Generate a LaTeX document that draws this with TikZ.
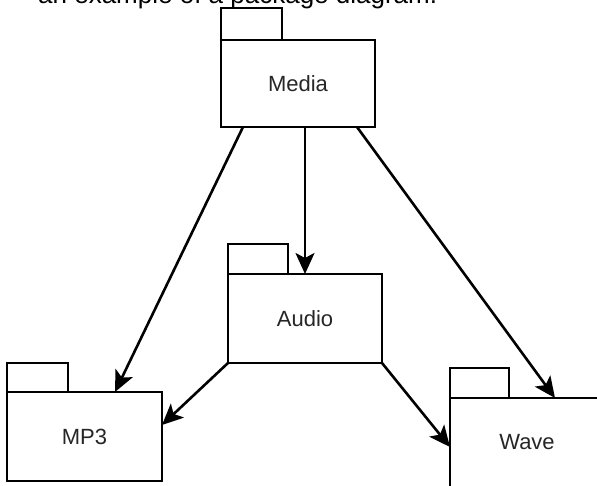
\documentclass[tikz,border=0pt]{standalone}
\usepackage{fontspec}
\setmainfont{Liberation Sans}
\usetikzlibrary{arrows.meta,positioning}
\tikzset{
  pkgbody/.style={draw=black, line width=2.8pt, fill=white, inner sep=0pt, outer sep=0pt, font=\fontsize{22}{24}\selectfont, text=black!85},
  pkgtab/.style={draw=black, line width=2.8pt, fill=white, inner sep=0pt, outer sep=0pt, anchor=south west},
  arr/.style={line width=2.6pt, -{Stealth[length=21pt,width=19pt,inset=5pt]}}
}
\begin{document}
\begin{tikzpicture}[x=1pt,y=-1pt]
\useasboundingbox (0,0) rectangle (597,486);
\clip (0,0) rectangle (597,486);
\node[anchor=base west, inner sep=0pt, font=\fontsize{26}{28}\selectfont] (title) at (38,4) {an example of a package diagram.};
% packages
\node[pkgbody, minimum width=154pt, minimum height=87pt] (media) at (298,83.5) {Media};
\node[pkgtab, minimum width=61pt, minimum height=32pt] (mediatab) at (media.north west) {};
\node[pkgbody, minimum width=154pt, minimum height=89pt] (audio) at (305,318.5) {Audio};
\node[pkgtab, minimum width=60pt, minimum height=30pt] (audiotab) at (audio.north west) {};
\node[pkgbody, minimum width=155pt, minimum height=89pt] (mp3) at (84.5,436.5) {MP3};
\node[pkgtab, minimum width=61pt, minimum height=29pt] (mp3tab) at (mp3.north west) {};
\node[pkgbody, minimum width=154pt, minimum height=89pt] (wave) at (527,442.5) {Wave};
\node[pkgtab, minimum width=59pt, minimum height=30pt] (wavetab) at (wave.north west) {};
% dependencies
\draw[arr] ([xshift=22pt]media.south west) -- ([xshift=108pt]mp3.north west);
\draw[arr] ([xshift=84pt]media.south west) -- ([xshift=77pt]audio.north west);
\draw[arr] ([xshift=136pt]media.south west) -- ([xshift=105pt]wave.north west);
\draw[arr] (audio.south west) -- ([yshift=11.5pt]mp3.east);
\draw[arr] (audio.south east) -- ([yshift=-4.5pt]wave.west);
\end{tikzpicture}
\end{document}
